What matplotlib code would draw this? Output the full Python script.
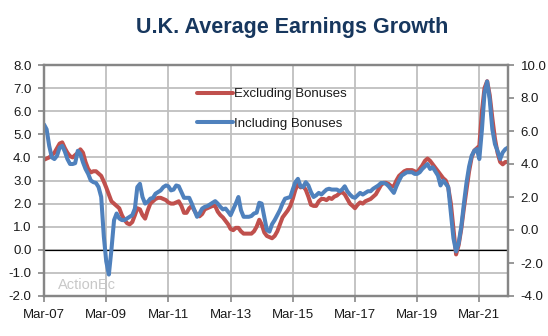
import pandas as pd
import numpy as np
import matplotlib.pyplot as plt
import matplotlib.dates as mdates
from matplotlib.ticker import FormatStrFormatter, MultipleLocator

# monthly, Mar 2007 onwards
dates = pd.date_range("2007-03-01", periods=180, freq="MS")

# Excluding bonuses (left axis, %)
excl_bonus = [
    3.9, 3.95, 4.0, 4.1, 4.2, 4.4, 4.6, 4.65, 4.4, 4.2, 4.05, 4.0,
    4.1, 4.2, 4.35, 4.2, 3.8, 3.5, 3.35, 3.4, 3.4, 3.3, 3.2, 2.95,
    2.7, 2.4, 2.1, 2.0, 1.9, 1.8, 1.5, 1.3, 1.15, 1.1, 1.2, 1.5,
    1.8, 1.75, 1.5, 1.35, 1.7, 2.0, 2.1, 2.2, 2.25, 2.25, 2.2, 2.15,
    2.05, 2.0, 2.0, 2.05, 2.1, 1.9, 1.6, 1.6, 1.8, 1.9, 1.7, 1.5,
    1.45, 1.55, 1.75, 1.8, 1.85, 1.9, 1.9, 1.65, 1.5, 1.4, 1.25, 1.1,
    0.9, 0.85, 0.95, 0.95, 0.8, 0.7, 0.7, 0.7, 0.7, 0.8, 1.0, 1.3,
    1.1, 0.75, 0.6, 0.55, 0.5, 0.6, 0.8, 1.1, 1.4, 1.55, 1.7, 1.9,
    2.2, 2.6, 2.85, 2.7, 2.75, 2.6, 2.3, 1.95, 1.9, 1.9, 2.1, 2.2,
    2.2, 2.15, 2.25, 2.2, 2.3, 2.35, 2.45, 2.5, 2.4, 2.2, 2.0, 1.9,
    1.8, 1.95, 2.05, 2.0, 2.1, 2.15, 2.2, 2.3, 2.4, 2.6, 2.8, 2.9,
    2.9, 2.85, 2.75, 2.75, 3.0, 3.2, 3.3, 3.4, 3.45, 3.45, 3.45, 3.4,
    3.35, 3.5, 3.65, 3.85, 3.95, 3.85, 3.7, 3.55, 3.4, 3.25, 3.1, 3.0,
    2.7, 2.0, 0.9, -0.2, 0.2, 0.9, 1.8, 2.6, 3.4, 4.0, 4.3, 4.4,
    4.5, 6.0, 7.0, 7.3, 6.7, 5.7, 4.8, 4.2, 3.8, 3.7, 3.8, 3.8,
]

# Including bonuses (right axis, %)
incl_bonus = [
    6.4, 6.1, 5.1, 4.4, 4.3, 4.5, 5.0, 5.1, 4.75, 4.3, 4.0, 4.0,
    4.05, 4.8, 4.6, 4.1, 3.7, 3.4, 3.0, 2.9, 2.85, 2.6, 2.0, -0.4,
    -1.9, -2.7, -1.2, 0.6, 1.0, 0.7, 0.6, 0.6, 0.7, 0.8, 0.9, 1.3,
    2.6, 2.8, 2.0, 1.6, 1.7, 1.9, 1.95, 2.2, 2.3, 2.4, 2.6, 2.7,
    2.65, 2.4, 2.45, 2.7, 2.65, 2.3, 1.95, 1.95, 1.95, 1.6, 1.2, 0.8,
    1.0, 1.3, 1.4, 1.45, 1.55, 1.65, 1.75, 1.6, 1.4, 1.25, 1.3, 1.1,
    0.9, 1.25, 1.6, 2.0, 1.2, 0.8, 0.8, 0.8, 0.85, 1.0, 1.05, 1.65,
    1.6, 0.8, 0.0, -0.1, 0.35, 0.6, 0.9, 1.2, 1.6, 1.9, 1.95, 2.0,
    2.45, 2.9, 3.1, 2.65, 2.6, 2.9, 2.7, 2.3, 2.0, 2.1, 2.25, 2.15,
    2.3, 2.45, 2.5, 2.45, 2.45, 2.45, 2.35, 2.45, 2.65, 2.35, 2.15, 2.0,
    1.95, 2.1, 2.25, 2.15, 2.25, 2.35, 2.35, 2.5, 2.6, 2.7, 2.85, 2.85,
    2.8, 2.65, 2.45, 2.25, 2.65, 3.0, 3.3, 3.4, 3.5, 3.5, 3.5, 3.4,
    3.4, 3.5, 3.7, 3.85, 4.0, 3.7, 3.8, 3.55, 3.3, 2.7, 3.0, 2.8,
    2.6, 1.0, -0.5, -1.3, -0.8, 0.2, 1.6, 2.85, 3.85, 4.5, 4.8, 4.9,
    4.3, 6.1, 8.3, 9.0, 7.9, 6.1, 5.2, 4.8, 4.3, 4.7, 4.9, 5.0,
]

red = '#C0504D'
blue = '#4F81BD'
grid_col = '#BFBFBF'
spine_col = '#868686'
font = 'Liberation Sans'

plt.rcParams['font.family'] = font

fig = plt.figure(figsize=(5.48, 3.36), dpi=100)
ax = fig.add_axes([44/548, 40/336, 464/548, 231/336])
ax2 = ax.twinx()

l1, = ax.plot(dates, excl_bonus, color=red, lw=2.9, label='Excluding Bonuses', solid_capstyle='round')
l2, = ax2.plot(dates, incl_bonus, color=blue, lw=2.9, label='Including Bonuses', solid_capstyle='round')

ax.axhline(0, color='black', lw=0.9, zorder=1)

ax.set_xlim(dates[0], dates[-1])
ax.set_ylim(-2, 8)
ax2.set_ylim(-4, 10)
ax.yaxis.set_major_locator(MultipleLocator(1))
ax2.yaxis.set_major_locator(MultipleLocator(2))
ax.yaxis.set_major_formatter(FormatStrFormatter('%.1f'))
ax2.yaxis.set_major_formatter(FormatStrFormatter('%.1f'))

xt = pd.date_range("2007-03-01", "2021-03-01", freq="24MS")
ax.set_xticks(xt)
ax.xaxis.set_major_formatter(mdates.DateFormatter('%b-%y'))

ax.grid(True, color=grid_col, lw=1.3)
ax.set_axisbelow(True)

for a in (ax, ax2):
    for s in a.spines.values():
        s.set_color(spine_col)
        s.set_linewidth(1.6)
    a.tick_params(colors=spine_col, labelcolor='#1a1a1a', labelsize=9.5,
                  length=4, width=1.2, direction='out')
ax.tick_params(axis='y', pad=5)
ax2.tick_params(axis='y', pad=5)
ax.tick_params(axis='x', pad=5)

fig.text(292/548, 1 - 27/336, 'U.K. Average Earnings Growth', ha='center', va='center',
         fontsize=15.5, fontweight='bold', color='#17375E')

ax.text(58/548, 1 - 285/336, 'ActionEc', transform=fig.transFigure, fontsize=10.5,
        color='#C8C8C8', va='center', ha='left')

leg = ax2.legend(handles=[l1, l2], loc='upper left', bbox_to_anchor=(197/548, 1 - 88/336),
                 bbox_transform=fig.transFigure, frameon=False, fontsize=9.5,
                 handlelength=2.7, handletextpad=0.1, labelspacing=1.3,
                 borderpad=0, borderaxespad=0)
for t in leg.get_texts():
    t.set_color('#1a1a1a')

fig.savefig('out.png', dpi=100)
